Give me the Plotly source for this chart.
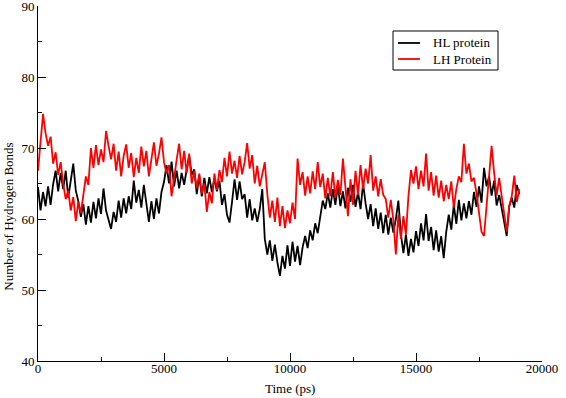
import plotly.graph_objects as go

time_ps = [i * 100 for i in range(192)]

hl_protein = [
    64.5, 61.2, 63.8, 61.8, 64.6, 62.0, 64.9, 66.8, 63.9, 66.5,
    64.2, 66.8, 63.0, 65.5, 67.8, 64.0, 62.5, 60.3, 62.1, 59.2,
    61.8, 59.5, 62.4, 60.1, 62.9, 60.7, 64.3, 61.2, 59.8, 58.6,
    61.0, 59.6, 62.6, 60.2, 62.9, 60.8, 63.2, 61.4, 65.4, 62.3,
    64.1, 61.6, 64.8, 62.0, 59.6, 62.5, 60.0, 62.9, 60.8, 63.8,
    65.2, 67.6, 65.0, 68.1, 64.6, 66.8, 64.3, 66.5, 64.8, 67.0,
    68.9, 66.2, 67.0, 63.5, 66.1, 63.2, 65.8, 63.6, 65.9, 63.8,
    65.7, 63.9, 65.4, 62.0, 63.5, 60.6, 59.5, 62.4, 65.6, 62.7,
    65.3, 62.8, 63.5, 60.2, 62.8, 59.8, 61.5, 59.6, 61.4, 64.2,
    57.2, 55.0, 57.0, 54.1, 56.4, 53.9, 52.0, 54.8, 53.0, 56.3,
    53.4, 56.8, 54.0, 56.2, 53.5, 56.0, 57.6, 55.9, 58.4, 57.0,
    59.4, 58.0, 60.3, 62.6, 61.4, 63.6, 61.6, 64.2, 62.0, 64.7,
    61.8, 63.9, 61.5, 64.4, 62.4, 64.8, 61.7, 63.8, 61.4, 65.0,
    62.2, 60.0, 62.1, 59.0, 61.5, 58.6, 60.9, 58.0, 60.6, 57.8,
    60.2, 58.1, 60.0, 62.6, 57.9, 55.2, 57.8, 54.8, 57.2, 55.3,
    58.3, 56.2, 59.4, 57.0, 60.7, 56.9, 58.9, 55.6, 58.4, 55.4,
    57.6, 54.5, 58.2, 60.6, 58.5, 62.0, 59.3, 62.7, 59.8, 62.2,
    60.1, 62.5, 60.6, 63.8, 61.7, 64.6, 62.3, 67.2, 64.6, 66.0,
    63.3, 65.4, 61.9, 63.4, 61.5, 59.4, 57.6, 61.8, 63.0, 61.6,
    64.8, 63.5,
]

lh_protein = [
    66.8, 71.0, 74.8, 72.1, 70.3, 71.6, 67.8, 69.4, 66.2, 68.0,
    64.9, 62.8, 64.0, 61.2, 63.1, 59.7, 62.4, 60.8, 63.6, 66.0,
    64.8, 70.0, 67.2, 70.4, 67.6, 69.8, 68.0, 72.4, 70.3, 68.4,
    70.6, 66.8, 69.5, 66.0, 68.9, 70.5, 67.2, 69.3, 65.9, 68.6,
    66.5, 70.2, 67.4, 69.6, 66.0, 68.7, 70.8, 67.5, 69.2, 71.5,
    68.0, 66.4, 67.6, 63.2, 66.0, 68.3, 70.6, 67.0, 69.6, 66.5,
    69.2, 65.0, 66.8, 64.3, 66.4, 63.6, 65.0, 61.0, 63.8, 62.2,
    66.4, 64.1, 66.9, 65.2, 68.6, 66.0, 69.5, 66.4, 68.2, 65.8,
    68.9, 66.3, 68.0, 70.7, 67.1, 69.0, 65.0, 67.5, 64.6, 66.6,
    68.0, 63.5, 60.2, 62.6, 59.6, 63.0, 59.0, 61.8, 58.7, 61.2,
    59.4, 62.3, 60.0, 68.5, 64.8, 66.6, 63.3, 66.0, 63.6, 66.7,
    64.2, 68.0, 64.5, 66.4, 62.9, 65.8, 63.2, 66.6, 63.0, 65.5,
    63.4, 68.5, 64.0, 60.4, 65.6, 62.0, 66.8, 63.4, 67.6, 64.2,
    67.1, 65.0, 69.0, 64.0, 66.0, 63.2, 65.6, 63.4, 62.8, 60.2,
    62.7, 59.9, 55.0, 60.6, 57.2, 60.4, 57.8, 63.2, 66.9, 65.0,
    67.4, 64.2, 66.8, 64.6, 69.2, 64.0, 66.6, 63.3, 66.1, 63.0,
    65.4, 62.5, 64.8, 62.8, 65.3, 61.6, 64.2, 66.0, 65.2, 70.6,
    66.4, 67.8, 65.3, 65.8, 63.6, 61.0, 58.2, 57.6, 61.5, 65.8,
    70.3, 66.5, 63.3, 65.8, 63.0, 60.4, 58.2, 61.8, 63.2, 66.1,
    62.4, 64.2,
]

series_names = ["HL protein", "LH Protein"]
series_colors = ["#000000", "#ff0000"]

x_ticks = [0, 5000, 10000, 15000, 20000]
y_ticks = [40, 50, 60, 70, 80, 90]

FONT = "Liberation Serif, Times New Roman, serif"

fig = go.Figure()
for name, color, values in zip(series_names, series_colors, [hl_protein, lh_protein]):
    fig.add_trace(go.Scatter(x=time_ps, y=values, mode="lines", name=name,
                             line=dict(color=color, width=1.8), showlegend=False))

# legend box drawn in paper coordinates (compact Grace-style legend)
shapes = [dict(type="rect", xref="paper", yref="paper", x0=0.7044, x1=0.9127,
               y0=0.8197, y1=0.9296, line=dict(color="black", width=1),
               fillcolor="white", layer="above")]
annotations = []
row_y = [0.8958, 0.8507]
for name, color, ry in zip(series_names, series_colors, row_y):
    shapes.append(dict(type="line", xref="paper", yref="paper", x0=0.7143, x1=0.7579,
                       y0=ry, y1=ry, line=dict(color=color, width=1.8), layer="above"))
    annotations.append(dict(text=name, xref="paper", yref="paper", x=0.7798, y=ry,
                            xanchor="left", yanchor="middle", showarrow=False,
                            font=dict(family=FONT, size=13, color="black")))

annotations += [
    dict(text="Time (ps)", xref="paper", yref="paper", x=0.5, y=-0.078,
         xanchor="center", yanchor="middle", showarrow=False,
         font=dict(family=FONT, size=13)),
    dict(text="Number of Hydrogen Bonds", xref="paper", yref="paper", x=-0.0585, y=0.405,
         xanchor="center", yanchor="middle", textangle=-90, showarrow=False,
         font=dict(family=FONT, size=13)),
]

fig.update_layout(
    width=566, height=398,
    margin=dict(l=38, r=24, t=6, b=37, autoexpand=False),
    paper_bgcolor="white", plot_bgcolor="white",
    font=dict(family=FONT, size=13, color="black"),
    showlegend=False,
    xaxis=dict(range=[0, 20000], tickvals=x_ticks, ticktext=[str(v) for v in x_ticks],
               automargin=False, ticklabeloverflow="allow", ticklabelstandoff=-5,
               showgrid=False, zeroline=False, showline=True, linecolor="black", linewidth=1,
               ticks="inside", ticklen=8, tickcolor="black",
               minor=dict(ticks="inside", ticklen=4, dtick=2500, tickcolor="black", showgrid=False),
               tickfont=dict(family=FONT, size=13)),
    yaxis=dict(range=[40, 90], tickvals=y_ticks, ticktext=[str(v) for v in y_ticks],
               automargin=False, ticklabeloverflow="allow",
               showgrid=False, zeroline=False, showline=True, linecolor="black", linewidth=1,
               ticks="inside", ticklen=8, tickcolor="black",
               minor=dict(ticks="inside", ticklen=4, dtick=5, tickcolor="black", showgrid=False),
               tickfont=dict(family=FONT, size=13)),
    shapes=shapes,
    annotations=annotations,
)

fig.write_html("out.html", config={"displayModeBar": False},
               post_script="document.body.style.margin='0';document.body.style.padding='0';")
